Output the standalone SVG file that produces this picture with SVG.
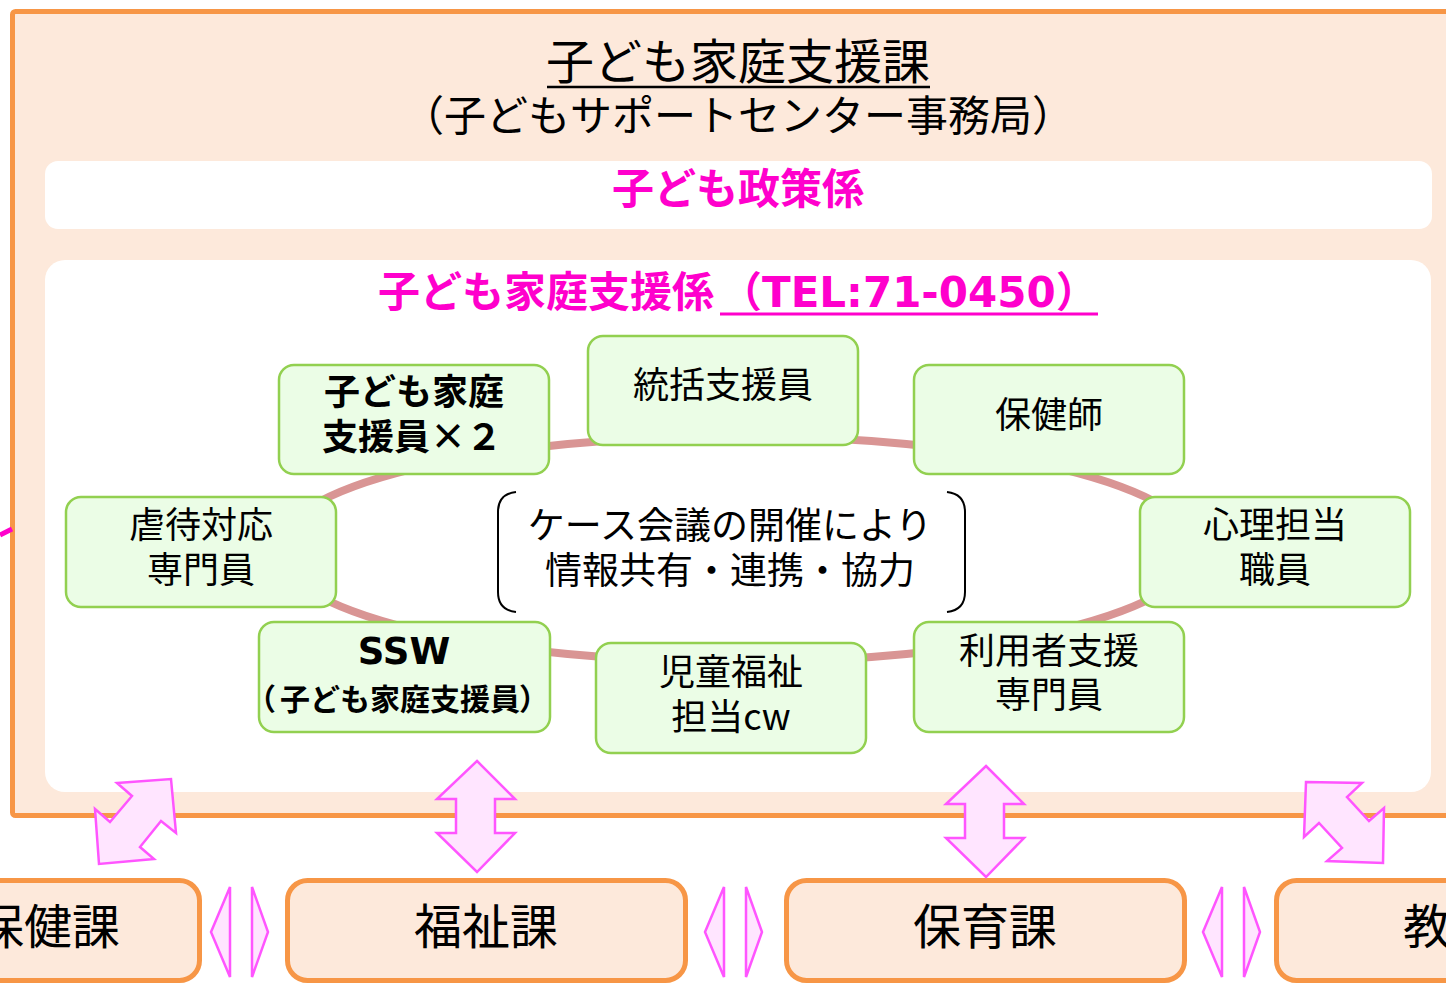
<svg xmlns="http://www.w3.org/2000/svg" width="1446" height="984" viewBox="0 0 1446 984">
<defs>
<style>
.jp{font-family:"Noto Sans CJK JP","DejaVu Sans",sans-serif;fill:#000;}
.lat{font-family:"DejaVu Sans","Noto Sans CJK JP",sans-serif;}
.node rect{fill:#EBFDE6;stroke:#92D050;stroke-width:2.5;}
.node text{font-family:"Noto Sans CJK JP",sans-serif;font-size:36px;text-anchor:middle;fill:#000;}
.b{font-weight:bold;}
.dept rect{fill:#FDE9DB;stroke:#F79646;stroke-width:5;}
.dept text{font-family:"Noto Sans CJK JP",sans-serif;font-size:48px;fill:#000;}
.arr{fill:#FFE5FF;stroke:#FF55FF;stroke-width:2.5;stroke-linejoin:miter;}
.mag{fill:#FF00CC;font-weight:bold;font-size:42px;}
</style>
</defs>
<rect x="0" y="0" width="1446" height="984" fill="#FFFFFF"/>
<g id="outer">
<rect x="12.5" y="11.5" width="1460" height="804" rx="3" fill="#FDE9DB" stroke="#F79646" stroke-width="5"/>
<line x1="0" y1="535" x2="12" y2="529" stroke="#FF00CC" stroke-width="5"/>
<text class="jp" x="738" y="79" font-size="48" text-anchor="middle">子ども家庭支援課</text>
<line x1="547" y1="87" x2="930" y2="87" stroke="#000" stroke-width="2.5"/>
<text class="jp" x="738" y="131" font-size="42" text-anchor="middle">（子どもサポートセンター事務局）</text>
</g>
<g id="policy">
<rect x="45" y="161" width="1387" height="68" rx="13" fill="#FFFFFF"/>
<text class="jp mag" x="738" y="204" text-anchor="middle">子ども政策係</text>
</g>
<g id="support">
<rect x="45" y="260" width="1386" height="532" rx="20" fill="#FFFFFF"/>
<text class="jp mag" x="378" y="307">子ども家庭支援係</text>
<text class="lat mag" x="720" y="307"><tspan font-family="Noto Sans CJK JP">（</tspan>TEL:71-0450<tspan font-family="Noto Sans CJK JP">）</tspan></text>
<line x1="720" y1="314" x2="1098" y2="314" stroke="#FF00CC" stroke-width="3"/>
</g>
<g id="connectors">
<ellipse cx="737" cy="549" rx="460" ry="113" fill="none" stroke="#D99594" stroke-width="8"/>
</g>
<g id="center">
<path d="M516,492 Q498,494 498,512 L498,592 Q498,610 516,612" fill="none" stroke="#000" stroke-width="2"/>
<path d="M947,492 Q965,494 965,512 L965,592 Q965,610 947,612" fill="none" stroke="#000" stroke-width="2"/>
<text class="jp" x="730" y="539" font-size="37" text-anchor="middle">ケース会議の開催により</text>
<text class="jp" x="730" y="584" font-size="37" text-anchor="middle">情報共有・連携・協力</text>
</g>
<g id="n1" class="node">
<rect x="279" y="365" width="270" height="109" rx="15"/>
<text class="b" x="414" y="405">子ども家庭</text>
<text class="b" x="412" y="450">支援員×２</text>
</g>
<g id="n2" class="node">
<rect x="588" y="336" width="270" height="109" rx="15"/>
<text x="723" y="398">統括支援員</text>
</g>
<g id="n3" class="node">
<rect x="914" y="365" width="270" height="109" rx="15"/>
<text x="1049" y="428">保健師</text>
</g>
<g id="n4" class="node">
<rect x="66" y="497" width="270" height="110" rx="15"/>
<text x="201" y="538">虐待対応</text>
<text x="201" y="583">専門員</text>
</g>
<g id="n5" class="node">
<rect x="1140" y="497" width="270" height="110" rx="15"/>
<text x="1275" y="538">心理担当</text>
<text x="1275" y="583">職員</text>
</g>
<g id="n6" class="node">
<rect x="259" y="622" width="291" height="110" rx="15"/>
<text class="b" x="404" y="664" style="font-family:'DejaVu Sans',sans-serif;font-size:37px">SSW</text>
<text class="b" x="246" y="710" style="font-size:30px;text-anchor:start">（<tspan dx="4">子ども家庭支援員</tspan><tspan dx="-1">）</tspan></text>
</g>
<g id="n7" class="node">
<rect x="596" y="643" width="270" height="110" rx="15"/>
<text x="731" y="685">児童福祉</text>
<text x="731" y="730">担当cw</text>
</g>
<g id="n8" class="node">
<rect x="914" y="622" width="270" height="110" rx="15"/>
<text x="1049" y="664">利用者支援</text>
<text x="1049" y="708">専門員</text>
</g>
<g id="d1" class="dept">
<rect x="-30" y="880.5" width="229.5" height="100" rx="20"/>
<text x="120" y="944" text-anchor="end">保健課</text>
</g>
<g id="d2" class="dept">
<rect x="287.5" y="880.5" width="398" height="100" rx="20"/>
<text x="486" y="944" text-anchor="middle">福祉課</text>
</g>
<g id="d3" class="dept">
<rect x="786.5" y="880.5" width="398" height="100" rx="20"/>
<text x="985" y="944" text-anchor="middle">保育課</text>
</g>
<g id="d4" class="dept">
<rect x="1276.5" y="880.5" width="300" height="100" rx="20"/>
<text x="1403" y="944">教</text>
</g>
<g id="arrows">
<polygon class="arr" points="117,783 171,779 176,833 161,821 140,847 154,859 99,864 95,809 110,822 132,796"/>
<polygon class="arr" points="477,761 515,799 495,799 495,833 515,833 477,872 437,833 456,833 456,799 437,799"/>
<polygon class="arr" points="986,766 1024,804 1004,804 1004,838 1024,838 986,877 946,838 965,838 965,804 946,804"/>
<polygon class="arr" points="1306,782 1362,783 1347,797 1369,821 1384,808 1383,863 1327,861 1342,848 1319,823 1304,837"/>
<polygon class="arr" points="230,887 230,977 211,932"/>
<polygon class="arr" points="252,887 252,977 268,932"/>
<polygon class="arr" points="724,887 724,977 705,932"/>
<polygon class="arr" points="746,887 746,977 762,932"/>
<polygon class="arr" points="1222,887 1222,977 1203,932"/>
<polygon class="arr" points="1244,887 1244,977 1260,932"/>
</g>
</svg>
